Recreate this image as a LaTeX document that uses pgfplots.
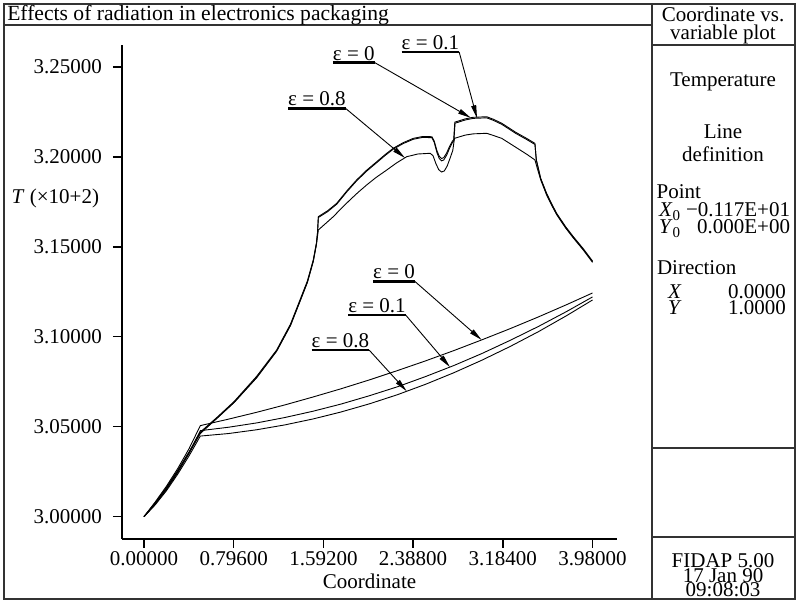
\documentclass[border=0pt]{standalone}
\usepackage{pgfplots}
\pgfplotsset{compat=1.18}
\usepackage{fontspec}
\setmainfont{Liberation Serif}
\usetikzlibrary{arrows.meta}

\pgfplotstableread{
x y
0 3.0000
0.1 3.0078
0.2 3.0163
0.3 3.0258
0.4 3.0360
0.5 3.0470
0.65 3.0553
0.8 3.0640
1.0 3.0780
1.177 3.0926
1.3 3.1070
1.384 3.1204
1.45 3.1310
1.502 3.1426
1.53 3.1520
1.540 3.1580
1.547 3.1667
1.63 3.1700
1.71 3.1741
1.8 3.1810
1.887 3.1871
1.976 3.1925
2.065 3.1972
2.14 3.2012
2.212 3.2047
2.30 3.2078
2.39 3.2102
2.47 3.2112
2.555 3.2111
2.575 3.2087
2.60 3.2032
2.62 3.2002
2.641 3.1990
2.66 3.1995
2.685 3.2020
2.71 3.2055
2.735 3.2085
2.748 3.2095
2.758 3.2192
2.85 3.2210
2.922 3.2219
3.041 3.2222
3.10 3.2208
3.174 3.2186
3.30 3.2135
3.40 3.2100
3.469 3.2074
3.480 3.1985
3.52 3.1880
3.572 3.1797
3.62 3.1735
3.661 3.1686
3.74 3.1612
3.809 3.1556
3.90 3.1487
3.98 3.1420
}\upperA

\pgfplotstableread{
x y
0 3.0000
0.1 3.0076
0.2 3.0160
0.3 3.0255
0.4 3.0357
0.5 3.0467
0.65 3.0549
0.8 3.0635
1.0 3.0774
1.177 3.0920
1.3 3.1063
1.384 3.1197
1.45 3.1303
1.502 3.1420
1.53 3.1515
1.540 3.1577
1.547 3.1662
1.63 3.1695
1.71 3.1736
1.8 3.1805
1.887 3.1866
1.976 3.1920
2.065 3.1967
2.14 3.2007
2.212 3.2042
2.30 3.2073
2.39 3.2097
2.47 3.2107
2.555 3.2106
2.575 3.2080
2.60 3.2022
2.62 3.1990
2.641 3.1977
2.66 3.1982
2.685 3.2008
2.71 3.2045
2.735 3.2077
2.750 3.2090
2.760 3.2186
2.85 3.2204
2.922 3.2213
3.041 3.2216
3.10 3.2202
3.174 3.2180
3.30 3.2129
3.40 3.2094
3.469 3.2068
3.482 3.1980
3.52 3.1876
3.572 3.1793
3.62 3.1731
3.661 3.1682
3.74 3.1608
3.809 3.1552
3.90 3.1483
3.98 3.1417
}\upperB

\pgfplotstableread{
x y
0 3.0000
0.1 3.0072
0.2 3.0155
0.3 3.0250
0.4 3.0352
0.5 3.0462
0.65 3.0548
0.8 3.0635
1.0 3.0772
1.177 3.0920
1.3 3.1063
1.384 3.1196
1.45 3.1302
1.502 3.1418
1.53 3.1512
1.540 3.1560
1.547 3.1593
1.61 3.1628
1.68 3.1667
1.75 3.1712
1.828 3.1760
1.90 3.1802
1.976 3.1843
2.06 3.1885
2.154 3.1926
2.24 3.1965
2.331 3.2000
2.43 3.2015
2.54 3.2019
2.565 3.2005
2.59 3.1962
2.615 3.1928
2.64 3.1915
2.665 3.1921
2.69 3.1948
2.715 3.1990
2.740 3.2035
2.755 3.2102
2.85 3.2120
2.922 3.2127
3.041 3.2130
3.10 3.2118
3.174 3.2102
3.30 3.2052
3.40 3.2012
3.469 3.1982
3.49 3.1935
3.52 3.1872
3.572 3.1788
3.62 3.1727
3.661 3.1679
3.74 3.1605
3.809 3.1549
3.90 3.1480
3.98 3.1413
}\upperC

\pgfplotstableread{
x y
0 3.0000
0.1 3.0082
0.2 3.0170
0.3 3.0268
0.4 3.0378
0.5 3.0506
0.75 3.0542
1.0 3.0580
1.25 3.0621
1.5 3.0665
1.75 3.0711
2.0 3.0760
2.25 3.0812
2.5 3.0866
2.75 3.0923
3.0 3.0983
3.25 3.1045
3.5 3.1110
3.75 3.1178
3.98 3.1243
}\lowerA

\pgfplotstableread{
x y
0 3.0000
0.1 3.0070
0.2 3.0152
0.3 3.0246
0.4 3.0354
0.5 3.0478
0.75 3.0497
1.0 3.0521
1.25 3.0551
1.5 3.0586
1.75 3.0626
2.0 3.0672
2.25 3.0722
2.5 3.0779
2.75 3.0840
3.0 3.0907
3.25 3.0980
3.5 3.1057
3.75 3.1140
3.98 3.1221
}\lowerB

\pgfplotstableread{
x y
0 3.0000
0.1 3.0066
0.2 3.0145
0.3 3.0237
0.4 3.0338
0.5 3.0448
0.75 3.0462
1.0 3.0483
1.25 3.0510
1.5 3.0543
1.75 3.0582
2.0 3.0627
2.25 3.0678
2.5 3.0736
2.75 3.0800
3.0 3.0870
3.25 3.0946
3.5 3.1028
3.75 3.1117
3.98 3.1204
}\lowerC

\begin{document}
\fontsize{21bp}{25bp}\selectfont
\begin{tikzpicture}[every node/.style={inner sep=0pt, outer sep=0pt}]
\useasboundingbox (0,0) rectangle (796bp,601bp);
% frame and panels
\begin{scope}[line width=1.5bp, black!80]
\draw (4bp,2bp) rectangle (795bp,597bp);
\draw (652bp,2bp) -- (652bp,597bp);
\draw (4bp,576bp) -- (652bp,576bp);
\draw (652bp,556bp) -- (795bp,556bp);
\draw (652bp,153bp) -- (795bp,153bp);
\draw (652bp,64bp) -- (795bp,64bp);
\end{scope}

\node[anchor=base west, font=\fontsize{21.6bp}{25bp}\selectfont] at (7.3bp,580.3bp) {Effects of radiation in electronics packaging};

\node[anchor=base] at (723bp,579.3bp) {Coordinate vs.};
\node[anchor=base] at (723bp,561bp) {variable plot};
\node[anchor=base] at (723bp,514bp) {Temperature};
\node[anchor=base] at (723bp,462bp) {Line};
\node[anchor=base] at (723bp,439bp) {definition};
\node[anchor=base west] at (656.7bp,402bp) {Point};
\node[anchor=base west] at (659bp,384bp) {\textit{X}\raisebox{-4bp}{\fontsize{15bp}{15bp}\selectfont 0}};
\node[anchor=base east] at (790bp,384bp) {−0.117E+01};
\node[anchor=base west] at (659bp,367bp) {\textit{Y}\raisebox{-4bp}{\fontsize{15bp}{15bp}\selectfont 0}};
\node[anchor=base east] at (790bp,367bp) {0.000E+00};
\node[anchor=base west] at (657bp,326bp) {Direction};
\node[anchor=base west] at (668bp,302bp) {\textit{X}};
\node[anchor=base west] at (728bp,302bp) {0.0000};
\node[anchor=base west] at (668bp,286bp) {\textit{Y}};
\node[anchor=base west] at (728bp,286bp) {1.0000};
\node[anchor=base] at (723bp,34bp) {FIDAP 5.00};
\node[anchor=base] at (723bp,18.5bp) {17 Jan 90};
\node[anchor=base] at (723bp,4.5bp) {09:08:03};

\node[anchor=base west] at (11.7bp,397bp) {\textit{T} (×10+2)};
\node[anchor=base] at (369.5bp,13bp) {Coordinate};

\begin{axis}[
  at={(122bp,62bp)}, anchor=south west,
  scale only axis, width=495bp, height=494bp,
  xmin=-0.195, xmax=4.197, ymin=2.98761, ymax=3.26206,
  axis x line*=bottom, axis y line*=left,
  axis line style={line width=1.6bp, black},
  xtick={0,0.796,1.592,2.388,3.184,3.98},
  ytick={3,3.05,3.1,3.15,3.2,3.25},
  tick align=outside, major tick length=9bp,
  every tick/.style={black, line width=1.6bp},
  xticklabel style={yshift=-4bp},
  yticklabel style={xshift=-11bp},
  scaled ticks=false,
  clip=false,
  /pgf/number format/fixed,
  /pgf/number format/fixed zerofill,
  /pgf/number format/precision=5,
  /pgf/number format/assume math mode=true,
]
\addplot[black, mark=none, line width=0.9bp] table[x=x,y=y] {\upperA};
\addplot[black, mark=none, line width=0.9bp] table[x=x,y=y] {\upperB};
\addplot[black, mark=none, line width=0.9bp] table[x=x,y=y] {\upperC};
\addplot[black, mark=none, line width=0.9bp] table[x=x,y=y] {\lowerA};
\addplot[black, mark=none, line width=0.9bp] table[x=x,y=y] {\lowerB};
\addplot[black, mark=none, line width=0.9bp] table[x=x,y=y] {\lowerC};

\tikzset{lab/.style={anchor=base west, inner sep=0pt},
  ul/.style={line width=2.5bp, black},
  arr/.style={line width=0.9bp, black, -{Triangle[length=13bp,width=5bp]}}}
% upper annotations
\node[lab] (a1) at (axis cs:1.677,3.2537) {ε = 0};
\draw[ul] ([yshift=-2.5bp]a1.base west) -- ([yshift=-2.5bp]a1.base east);
\draw[arr] ([yshift=-2.5bp]a1.base east) -- (axis cs:2.90,3.2216);
\node[lab] (a2) at (axis cs:2.287,3.2596) {ε = 0.1};
\draw[ul] ([yshift=-2.5bp]a2.base west) -- ([yshift=-2.5bp]a2.base east);
\draw[arr] ([yshift=-2.5bp]a2.base east) -- (axis cs:2.955,3.2214);
\node[lab] (a3) at (axis cs:1.280,3.2282) {ε = 0.8};
\draw[ul] ([yshift=-2.5bp]a3.base west) -- ([yshift=-2.5bp]a3.base east);
\draw[arr] ([yshift=-2.5bp]a3.base east) -- (axis cs:2.316,3.1993);
% lower annotations
\node[lab] (b1) at (axis cs:2.034,3.1321) {ε = 0};
\draw[ul] ([yshift=-2.5bp]b1.base west) -- ([yshift=-2.5bp]b1.base east);
\draw[arr] ([yshift=-2.5bp]b1.base east) -- (axis cs:2.996,3.0982);
\node[lab] (b2) at (axis cs:1.813,3.1134) {ε = 0.1};
\draw[ul] ([yshift=-2.5bp]b2.base west) -- ([yshift=-2.5bp]b2.base east);
\draw[arr] ([yshift=-2.5bp]b2.base east) -- (axis cs:2.715,3.0831);
\node[lab] (b3) at (axis cs:1.488,3.0940) {ε = 0.8};
\draw[ul] ([yshift=-2.5bp]b3.base west) -- ([yshift=-2.5bp]b3.base east);
\draw[arr] ([yshift=-2.5bp]b3.base east) -- (axis cs:2.331,3.0697);
\end{axis}
\end{tikzpicture}
\end{document}
